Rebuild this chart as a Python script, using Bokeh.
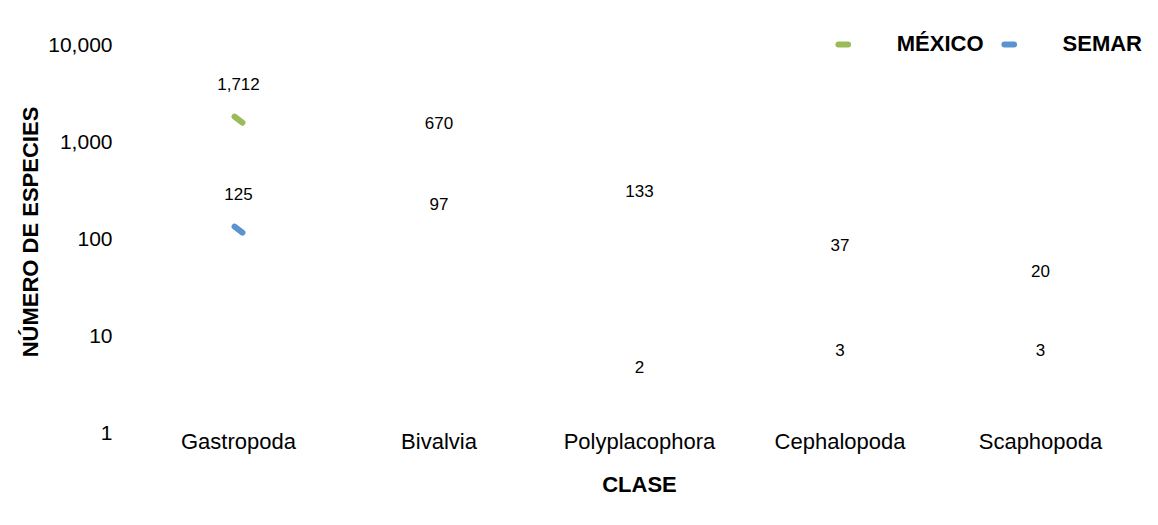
from bokeh.plotting import figure
from bokeh.models import (ColumnDataSource, FactorRange, Range1d, FixedTicker,
                          NumeralTickFormatter, Legend, LegendItem, LabelSet)
from bokeh.core.properties import value
from bokeh.embed import file_html
from bokeh.resources import INLINE

# ---- data ----
categories = ["Gastropoda", "Bivalvia", "Polyplacophora", "Cephalopoda", "Scaphopoda"]
mexico = [1712, 670, 133, 37, 20]
semar = [125, 97, 2, 3, 3]
y_ticks = [1, 10, 100, 1000, 10000]
series_names = ["MÉXICO", "SEMAR"]

GREEN = "#9BBB59"
BLUE = "#5B93CF"
FONT = "Liberation Sans"

p = figure(
    x_range=FactorRange(factors=categories, range_padding=0.0087, range_padding_units="absolute"),
    y_range=Range1d(1, 10 ** 4.1447),
    y_axis_type="log",
    width=1142, height=509,
    output_backend="svg", toolbar_location=None,
    min_border_left=136, min_border_right=0, min_border_top=31, min_border_bottom=77,
)
p.outline_line_color = None
p.xgrid.grid_line_color = None
p.ygrid.grid_line_color = None
p.background_fill_color = "white"
p.border_fill_color = "white"

# axes
p.yaxis.ticker = FixedTicker(ticks=y_ticks, minor_ticks=[])
p.yaxis.formatter = NumeralTickFormatter(format="0,0")
for ax in (p.xaxis[0], p.yaxis[0]):
    ax.axis_line_color = None
    ax.major_tick_line_color = None
    ax.minor_tick_line_color = None
    ax.major_label_text_font = FONT
    ax.major_label_text_color = "#000000"
    ax.axis_label_text_font = FONT
    ax.axis_label_text_font_size = "22px"
    ax.axis_label_text_font_style = "bold"
    ax.axis_label_text_color = "#000000"
p.yaxis.major_label_text_font_size = "21px"
p.xaxis.major_label_text_font_size = "22px"
p.yaxis.major_label_standoff = 18
p.yaxis.axis_label = "NÚMERO DE ESPECIES"
p.yaxis.axis_label_standoff = 2
p.xaxis.major_label_standoff = -10
p.xaxis.axis_label = "CLASE"
p.xaxis.axis_label_standoff = 15

# markers (only the first category shows a marker in the reference)
src_m = ColumnDataSource(dict(x=categories[:1], y=mexico[:1]))
src_s = ColumnDataSource(dict(x=categories[:1], y=semar[:1]))
rm = p.scatter("x", "y", source=src_m, marker="dash", size=10, angle=-0.66,
               line_color=GREEN, line_width=6, line_cap="round")
rs = p.scatter("x", "y", source=src_s, marker="dash", size=10, angle=-0.66,
               line_color=BLUE, line_width=6, line_cap="round")

# data labels
lab_src = ColumnDataSource(dict(
    x=categories + categories,
    y=mexico + semar,
    t=[f"{v:,}" for v in mexico + semar],
))
labels = LabelSet(x="x", y="y", text="t", source=lab_src, y_offset=36,
                  text_align="center", text_baseline="middle",
                  text_font=value(FONT), text_font_size=value("17px"),
                  text_color=value("#000000"))
p.add_layout(labels)

legend = Legend(
    items=[LegendItem(label=series_names[0], renderers=[rm]),
           LegendItem(label=series_names[1], renderers=[rs])],
    orientation="horizontal", location="top_right",
    label_text_font=FONT, label_text_font_style="bold", label_text_font_size="22px",
    label_text_color="#000000",
    glyph_width=24, glyph_height=24, label_standoff=42, spacing=13,
    padding=0, margin=0, border_line_alpha=0, background_fill_alpha=0,
)
p.add_layout(legend)

open("out.html", "w").write(file_html(p, INLINE))
